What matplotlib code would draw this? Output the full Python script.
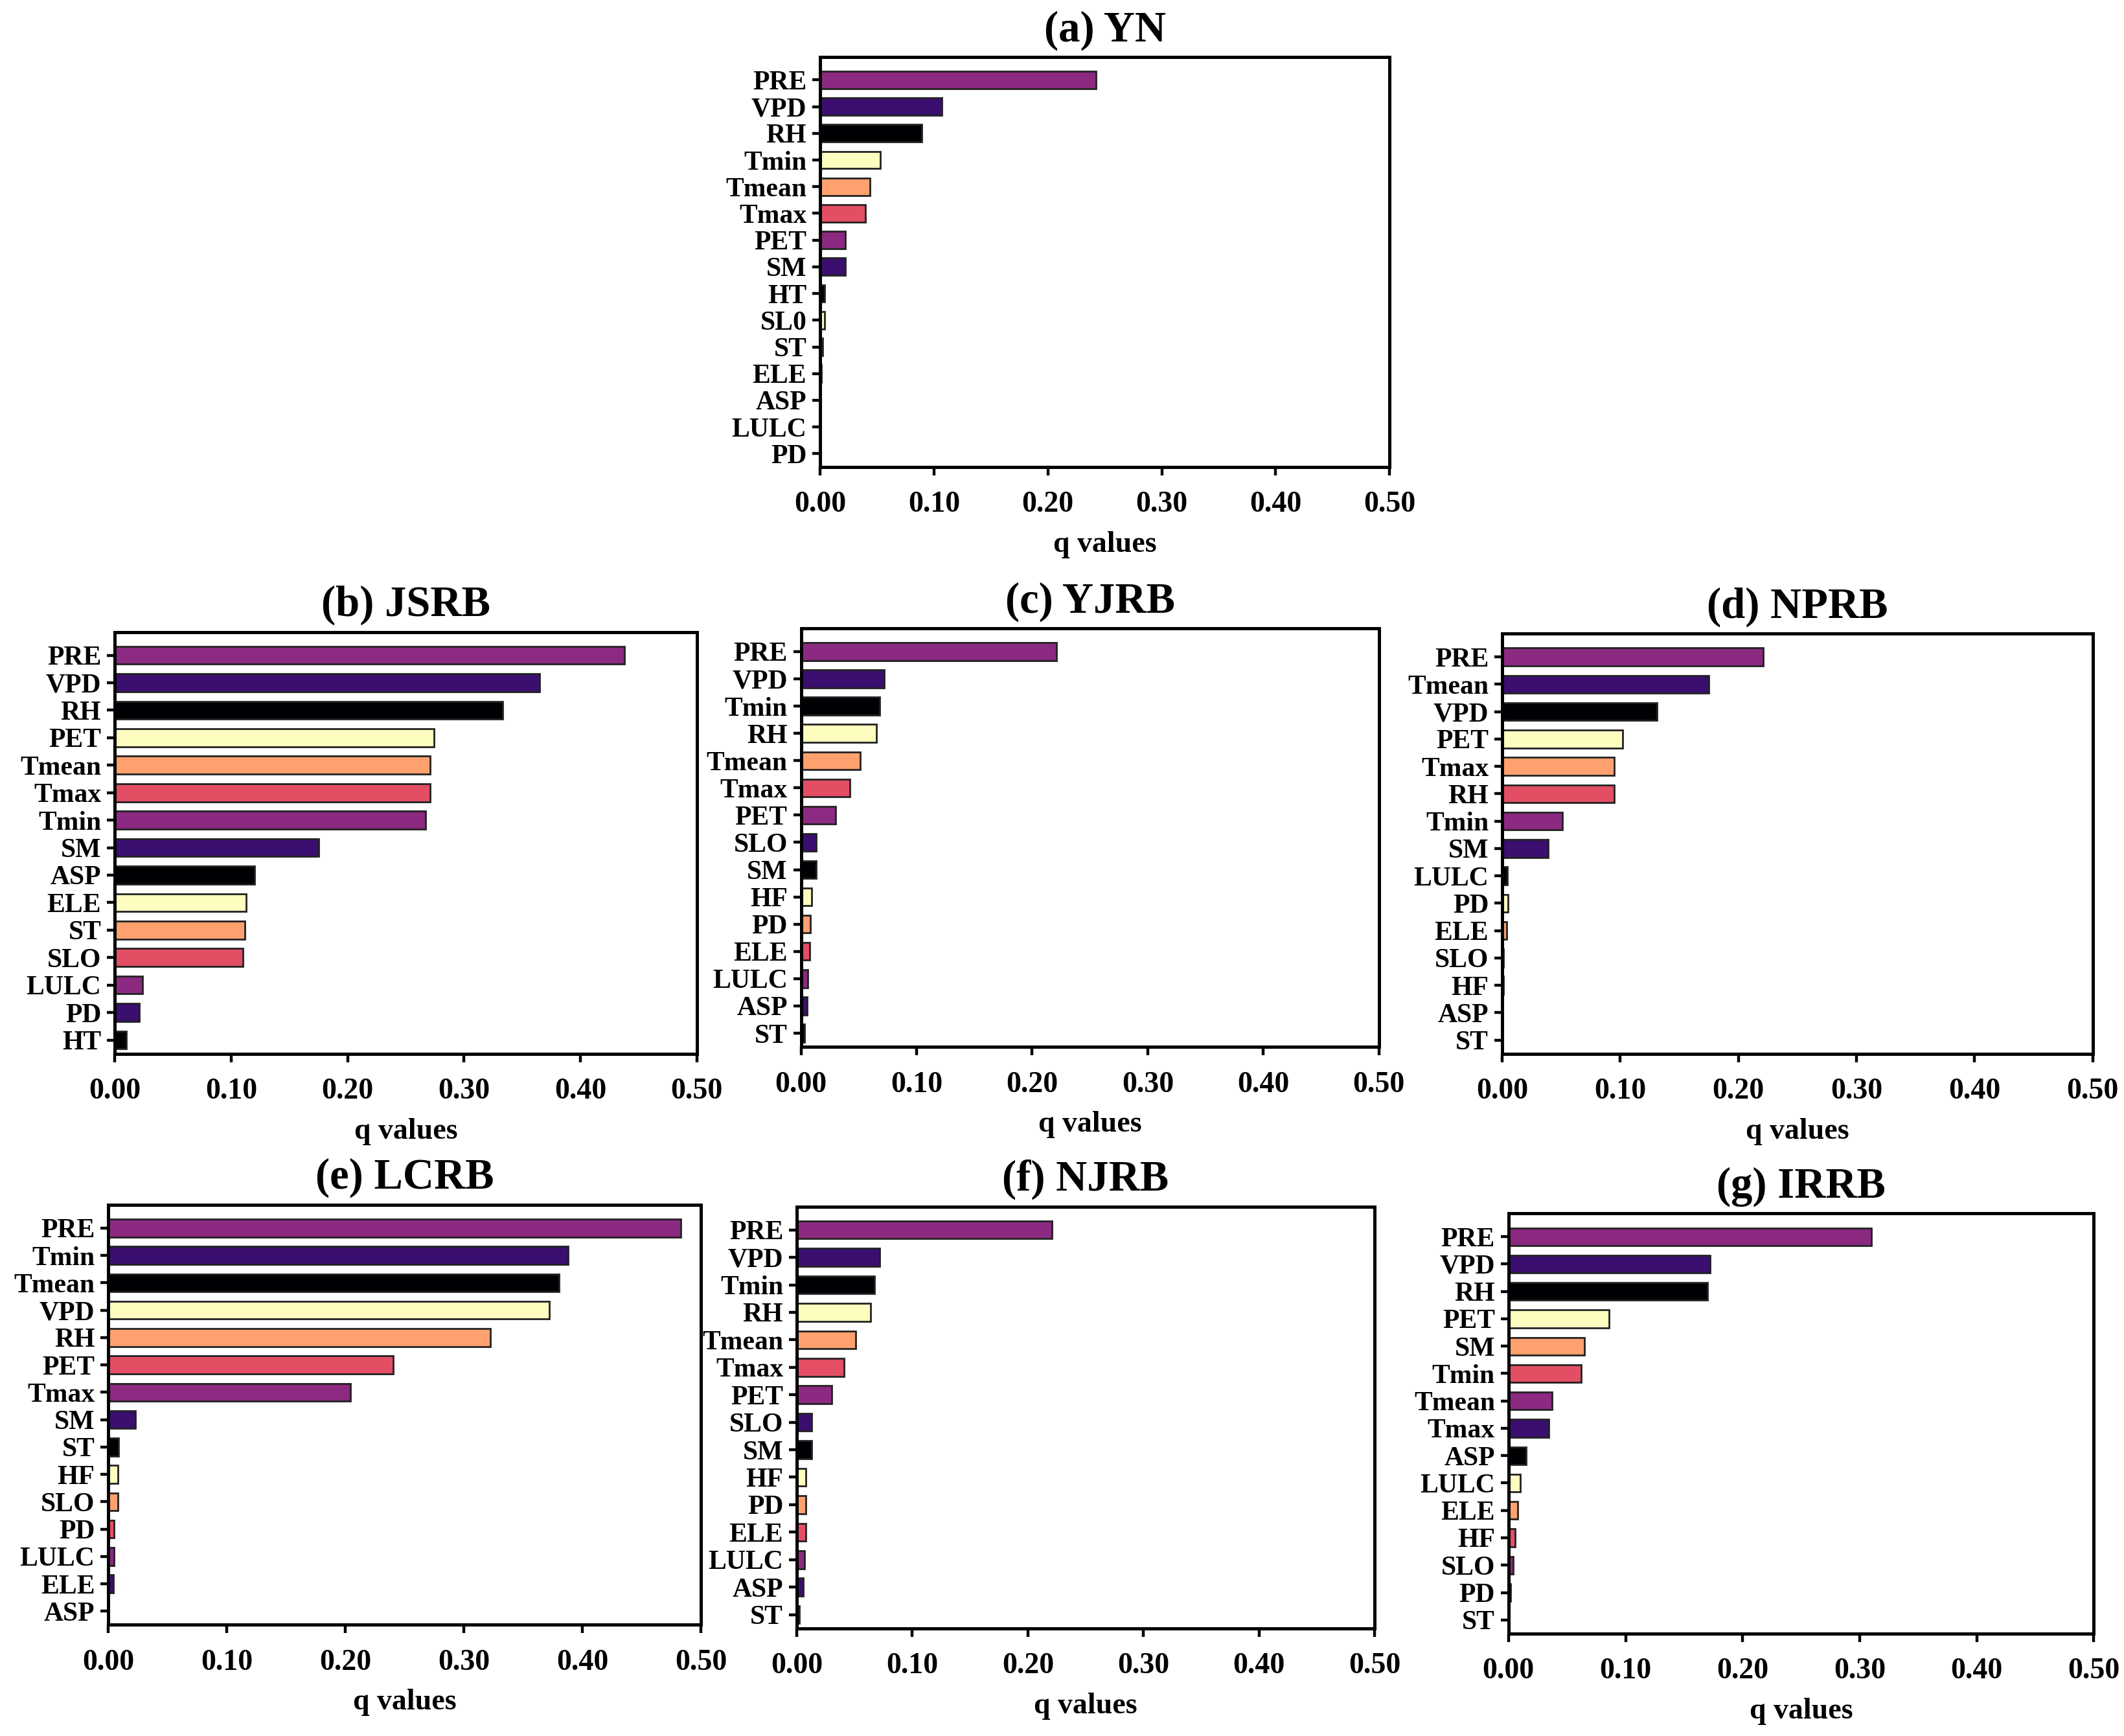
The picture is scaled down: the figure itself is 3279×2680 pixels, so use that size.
import matplotlib.pyplot as plt
from matplotlib.ticker import FormatStrFormatter

# factor names and q values for each basin (top to bottom)
yn_labels = ["PRE", "VPD", "RH", "Tmin", "Tmean", "Tmax", "PET", "SM", "HT", "SL0", "ST", "ELE", "ASP", "LULC", "PD"]
yn_q = [0.242, 0.107, 0.089, 0.053, 0.044, 0.040, 0.022, 0.022, 0.004, 0.004, 0.002, 0.001, 0.0005, 0.0, 0.0]

jsrb_labels = ["PRE", "VPD", "RH", "PET", "Tmean", "Tmax", "Tmin", "SM", "ASP", "ELE", "ST", "SLO", "LULC", "PD", "HT"]
jsrb_q = [0.438, 0.365, 0.333, 0.274, 0.271, 0.271, 0.267, 0.175, 0.120, 0.113, 0.112, 0.110, 0.024, 0.021, 0.010]

yjrb_labels = ["PRE", "VPD", "Tmin", "RH", "Tmean", "Tmax", "PET", "SLO", "SM", "HF", "PD", "ELE", "LULC", "ASP", "ST"]
yjrb_q = [0.221, 0.072, 0.068, 0.065, 0.051, 0.042, 0.030, 0.013, 0.013, 0.009, 0.008, 0.0075, 0.006, 0.0055, 0.003]

nprb_labels = ["PRE", "Tmean", "VPD", "PET", "Tmax", "RH", "Tmin", "SM", "LULC", "PD", "ELE", "SLO", "HF", "ASP", "ST"]
nprb_q = [0.221, 0.175, 0.131, 0.102, 0.095, 0.095, 0.051, 0.039, 0.0045, 0.005, 0.004, 0.001, 0.001, 0.0005, 0.0]

lcrb_labels = ["PRE", "Tmin", "Tmean", "VPD", "RH", "PET", "Tmax", "SM", "ST", "HF", "SLO", "PD", "LULC", "ELE", "ASP"]
lcrb_q = [0.483, 0.388, 0.380, 0.372, 0.322, 0.240, 0.204, 0.023, 0.0085, 0.008, 0.008, 0.0045, 0.0045, 0.004, 0.0]

njrb_labels = ["PRE", "VPD", "Tmin", "RH", "Tmean", "Tmax", "PET", "SLO", "SM", "HF", "PD", "ELE", "LULC", "ASP", "ST"]
njrb_q = [0.221, 0.072, 0.067, 0.064, 0.051, 0.041, 0.030, 0.013, 0.013, 0.008, 0.008, 0.008, 0.0065, 0.0055, 0.002]

irrb_labels = ["PRE", "VPD", "RH", "PET", "SM", "Tmin", "Tmean", "Tmax", "ASP", "LULC", "ELE", "HF", "SLO", "PD", "ST"]
irrb_q = [0.310, 0.172, 0.170, 0.086, 0.065, 0.062, 0.037, 0.0345, 0.015, 0.010, 0.008, 0.0055, 0.004, 0.002, 0.0]

titles = ["(a) YN", "(b) JSRB", "(c) YJRB", "(d) NPRB", "(e) LCRB", "(f) NJRB", "(g) IRRB"]

# repeating magma-like colours
cycle = ["#8c2981", "#3b0f70", "#000004", "#fcfdbf", "#fea16e", "#e34e65"]

panels = [
    (yn_labels, yn_q, [0.386, 0.731, 0.268, 0.236]),
    (jsrb_labels, jsrb_q, [0.054, 0.393, 0.274, 0.243]),
    (yjrb_labels, yjrb_q, [0.377, 0.397, 0.272, 0.241]),
    (nprb_labels, nprb_q, [0.707, 0.393, 0.278, 0.242]),
    (lcrb_labels, lcrb_q, [0.051, 0.064, 0.279, 0.242]),
    (njrb_labels, njrb_q, [0.375, 0.062, 0.272, 0.243]),
    (irrb_labels, irrb_q, [0.710, 0.059, 0.2755, 0.242]),
]

plt.rcParams["font.family"] = ["Liberation Serif", "DejaVu Serif"]
plt.rcParams["font.weight"] = "bold"

fig = plt.figure(figsize=(16.4, 13.4), dpi=200)

for (labels, q, rect), title in zip(panels, titles):
    ax = fig.add_axes(rect)
    n = len(labels)
    cols = [cycle[i % len(cycle)] for i in range(n)]
    ax.barh(range(n), q, height=0.65, color=cols, edgecolor="#222222", linewidth=1.0)
    ax.set_yticks(range(n))
    ax.set_yticklabels(labels, fontsize=15, fontweight="bold")
    ax.set_ylim(n - 0.5, -0.85)
    ax.set_xlim(0, 0.5)
    ax.set_xticks([0, 0.1, 0.2, 0.3, 0.4, 0.5])
    ax.xaxis.set_major_formatter(FormatStrFormatter("%.2f"))
    for t in ax.get_xticklabels():
        t.set_fontsize(16.5)
        t.set_fontweight("bold")
    ax.tick_params(axis="both", direction="out", width=1.6, length=4.5, pad=3)
    ax.tick_params(axis="x", pad=9)
    for s in ax.spines.values():
        s.set_linewidth(1.8)
    ax.set_xlabel("q values", fontsize=16.5, fontweight="bold", labelpad=7)
    ax.set_title(title, fontsize=24, fontweight="bold", pad=9)

plt.savefig("out.png", dpi=200)
